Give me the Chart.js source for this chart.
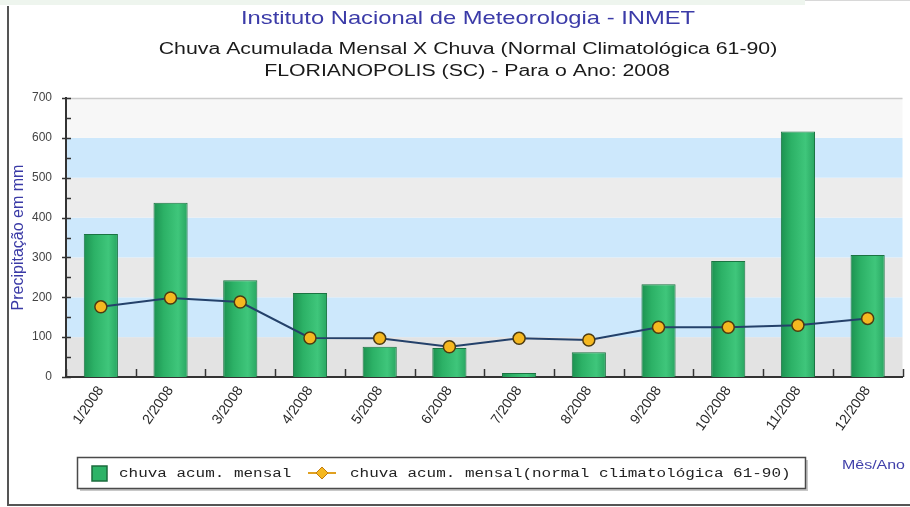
<!DOCTYPE html>
<html>
<head>
<meta charset="utf-8">
<title>INMET - Chuva Acumulada Mensal 2008</title>
<script src="https://cdn.jsdelivr.net/npm/chart.js@4.4.1/dist/chart.umd.min.js"></script>
<style>
  html, body { margin: 0; padding: 0; background: #ffffff; }
  #wrap { width: 910px; height: 507px; position: relative; }
</style>
</head>
<body>
<div id="wrap"><canvas id="chart" width="910" height="507"></canvas></div>
<script>
// Months of 2008 (category axis)
const months = ['1/2008', '2/2008', '3/2008', '4/2008', '5/2008', '6/2008',
                '7/2008', '8/2008', '9/2008', '10/2008', '11/2008', '12/2008'];

// Monthly accumulated rainfall, mm
const chuvaMensal = [359, 437, 243, 211, 76, 73, 10, 62, 233, 291, 616, 306];

// Climatological normal 1961-1990, mm
const normalClimatologica = [176, 198, 188, 98, 97, 76, 97, 93, 125, 125, 130, 147];

// Y axis range and step
const yMin = 0;
const yMax = 700;
const yStep = 100;

// Heading lines
const titleLines = [
  'Instituto Nacional de Meteorologia - INMET',
  'Chuva Acumulada Mensal X Chuva (Normal Climatológica 61-90)',
  'FLORIANOPOLIS (SC) - Para o Ano: 2008'
];
const yAxisTitle = 'Precipitação em mm';
const xAxisTitle = 'Mês/Ano';
const barLabel = 'chuva acum. mensal';
const lineLabel = 'chuva acum. mensal(normal climatológica 61-90)';

// ---- styling ----
const SANS = '"Liberation Sans", Arial, sans-serif';
const MONO = '"Liberation Mono", "DejaVu Sans Mono", monospace';
const BAND_FILLS = ['#e3e3e3', '#cde8fc', '#e8e8e8', '#cde8fc', '#ececec', '#cde8fc', '#f7f7f7'];
const BAR_CAT_PCT = 0.49;

// horizontally stretched text helper
function stretchedText(ctx, text, x, y, font, color, sx, align) {
  ctx.save();
  ctx.font = font;
  ctx.fillStyle = color;
  ctx.textBaseline = 'alphabetic';
  const w = ctx.measureText(text).width * sx;
  let left = x;
  if (align === 'center') left = x - w / 2;
  else if (align === 'right') left = x - w;
  ctx.translate(left, y);
  ctx.scale(sx, 1);
  ctx.textAlign = 'left';
  ctx.fillText(text, 0, 0);
  ctx.restore();
}

function barGradient(c) {
  const chart = c.chart;
  const xs = chart.scales.x;
  if (!chart.chartArea || !xs || c.dataIndex === undefined) return '#2eb468';
  const cx = xs.getPixelForValue(c.dataIndex);
  const w = (xs.width / months.length) * BAR_CAT_PCT;
  const g = chart.ctx.createLinearGradient(cx - w / 2, 0, cx + w / 2, 0);
  g.addColorStop(0, '#1c9150');
  g.addColorStop(0.3, '#2cb166');
  g.addColorStop(0.72, '#3fc67b');
  g.addColorStop(1, '#28a661');
  return g;
}

// Page frame, headings and alternating plot bands
const backdrop = {
  id: 'backdrop',
  beforeDraw(chart) {
    const { ctx, chartArea: a, scales: { y } } = chart;
    ctx.save();
    ctx.fillStyle = '#ffffff';
    ctx.fillRect(0, 0, chart.width, chart.height);
    // top strip
    ctx.fillStyle = '#eef5ee';
    ctx.fillRect(0, 0, 805, 5);
    ctx.strokeStyle = '#d8d8d8';
    ctx.lineWidth = 1;
    ctx.beginPath(); ctx.moveTo(805, 0.5); ctx.lineTo(910, 0.5); ctx.stroke();
    // frame
    ctx.strokeStyle = '#555555';
    ctx.lineWidth = 2;
    ctx.beginPath();
    ctx.moveTo(8, 6); ctx.lineTo(8, 505); ctx.lineTo(910, 505);
    ctx.stroke();

    // bands between consecutive ticks
    const ticks = y.ticks.map(t => t.value);
    for (let i = 0; i < ticks.length - 1; i++) {
      const y0 = y.getPixelForValue(ticks[i]);
      const y1 = y.getPixelForValue(ticks[i + 1]);
      ctx.fillStyle = BAND_FILLS[i % BAND_FILLS.length];
      ctx.fillRect(a.left, y1, a.right - a.left, y0 - y1);
    }
    // top edge of the plot
    ctx.strokeStyle = '#cccccc';
    ctx.lineWidth = 1.5;
    ctx.beginPath(); ctx.moveTo(a.left, a.top + 0.5); ctx.lineTo(a.right, a.top + 0.5); ctx.stroke();

    // headings
    stretchedText(ctx, titleLines[0], 468, 24, '19px ' + SANS, '#3b3ba8', 1.25, 'center');
    stretchedText(ctx, titleLines[1], 468, 53.5, '16px ' + SANS, '#1a1a1a', 1.33, 'center');
    stretchedText(ctx, titleLines[2], 467, 76, '16px ' + SANS, '#1a1a1a', 1.33, 'center');
    ctx.restore();
  },
  beforeDatasetsDraw(chart) {
    const { ctx, chartArea: a, scales: { x, y } } = chart;
    ctx.save();
    ctx.strokeStyle = '#333333';
    ctx.lineWidth = 1.5;
    // category boundary ticks
    for (let i = 0; i <= months.length; i++) {
      const px = Math.round(x.getPixelForValue(i - 0.5)) + 0.5;
      ctx.beginPath(); ctx.moveTo(px, a.bottom); ctx.lineTo(px, a.bottom - 8); ctx.stroke();
    }
    // major and minor value ticks
    for (let v = yMin; v <= yMax; v += yStep / 2) {
      const py = Math.round(y.getPixelForValue(v)) + 0.5;
      const major = (v % yStep) === 0;
      ctx.beginPath();
      ctx.moveTo(major ? a.left - 4 : a.left, py);
      ctx.lineTo(a.left + 5, py);
      ctx.stroke();
    }
    ctx.restore();
  },
  afterDraw(chart) {
    const { ctx } = chart;
    ctx.save();
    // legend box with shadow
    const bx = 77, by = 457, bw = 728, bh = 31;
    ctx.fillStyle = '#c8c8c8';
    ctx.fillRect(bx + 3, by + 3, bw, bh);
    ctx.fillStyle = '#ffffff';
    ctx.fillRect(bx, by, bw, bh);
    ctx.strokeStyle = '#4a4a4a';
    ctx.lineWidth = 1.5;
    ctx.strokeRect(bx + 0.5, by + 0.5, bw, bh);

    const barDs = chart.data.datasets[0];
    const lineDs = chart.data.datasets[1];
    const cy = 473;
    // bar swatch
    ctx.fillStyle = '#2db367';
    ctx.fillRect(92, cy - 7, 15, 15);
    ctx.strokeStyle = '#1b6b3c';
    ctx.lineWidth = 1.5;
    ctx.strokeRect(92, cy - 7, 15, 15);
    stretchedText(ctx, barDs.label, 119, cy + 4, '12px ' + MONO, '#222222', 1.33, 'left');

    // line swatch with diamond marker
    ctx.strokeStyle = '#e0a020';
    ctx.lineWidth = 2;
    ctx.beginPath(); ctx.moveTo(308, cy); ctx.lineTo(336, cy); ctx.stroke();
    ctx.beginPath();
    ctx.moveTo(322, cy - 6); ctx.lineTo(328, cy); ctx.lineTo(322, cy + 6); ctx.lineTo(316, cy);
    ctx.closePath();
    ctx.fillStyle = '#f5b820';
    ctx.fill();
    ctx.strokeStyle = '#c07a10';
    ctx.lineWidth = 1;
    ctx.stroke();
    stretchedText(ctx, lineDs.label, 350, cy + 4, '12px ' + MONO, '#222222', 1.33, 'left');

    // x axis caption
    stretchedText(ctx, xAxisTitle, 905, 469, '12px ' + SANS, '#4040aa', 1.33, 'right');
    ctx.restore();
  }
};

new Chart(document.getElementById('chart'), {
  type: 'bar',
  data: {
    labels: months,
    datasets: [
      {
        type: 'bar',
        label: barLabel,
        data: chuvaMensal,
        backgroundColor: barGradient,
        borderColor: '#1b7442',
        borderWidth: 1,
        barPercentage: 1,
        categoryPercentage: BAR_CAT_PCT,
        order: 2
      },
      {
        type: 'line',
        label: lineLabel,
        data: normalClimatologica,
        borderColor: '#24416a',
        borderWidth: 2,
        tension: 0,
        fill: false,
        pointRadius: 6,
        pointHoverRadius: 6,
        pointBackgroundColor: '#f5b820',
        pointBorderColor: '#4d3b10',
        pointBorderWidth: 1.5,
        order: 1
      }
    ]
  },
  options: {
    responsive: false,
    animation: false,
    devicePixelRatio: 1,
    layout: { padding: { top: 98, right: 5, bottom: 0, left: 0 } },
    plugins: {
      legend: { display: false },
      title: { display: false },
      tooltip: { enabled: false }
    },
    scales: {
      x: {
        grid: { display: false, drawTicks: false },
        border: { display: true, color: '#333333', width: 2 },
        ticks: {
          autoSkip: false,
          minRotation: 55,
          maxRotation: 55,
          padding: 6,
          color: '#2a2a2a',
          font: { family: SANS, size: 14 }
        },
        afterFit(scale) { scale.height = 130; }
      },
      y: {
        min: yMin,
        max: yMax,
        grid: { display: false, drawTicks: false },
        border: { display: true, color: '#333333', width: 2 },
        ticks: {
          stepSize: yStep,
          padding: 14,
          color: '#444444',
          font: { family: SANS, size: 12 }
        },
        title: {
          display: true,
          text: yAxisTitle,
          color: '#3a3aa6',
          font: { family: SANS, size: 16 },
          padding: { top: 9, bottom: 0 }
        },
        afterFit(scale) { scale.width = 66; }
      }
    }
  },
  plugins: [backdrop]
});
</script>
</body>
</html>
